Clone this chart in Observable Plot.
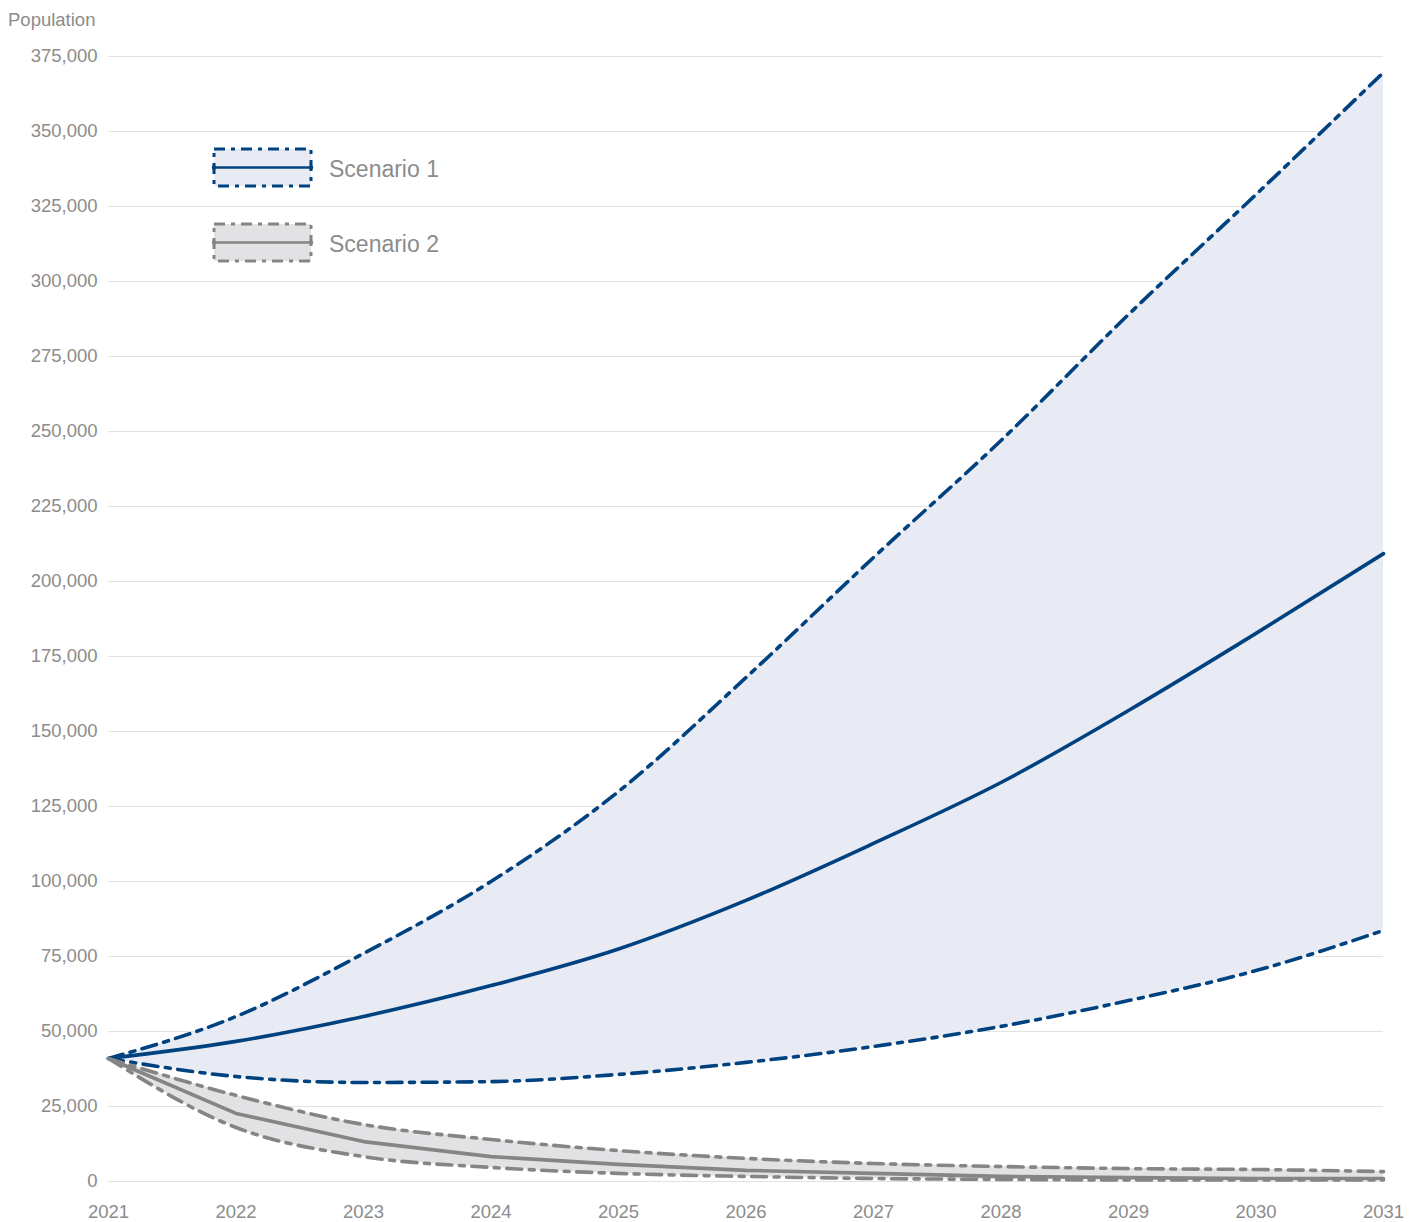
<!DOCTYPE html>
<html><head><meta charset="utf-8">
<script src="https://cdn.jsdelivr.net/npm/d3@7"></script>
<script src="https://cdn.jsdelivr.net/npm/@observablehq/plot@0.6"></script>
<style>
body{margin:0;background:#fff;font-family:"Liberation Sans",Arial,sans-serif;}
#wrap{position:relative;width:1411px;height:1222px;}
#ylab{position:absolute;left:8px;top:9px;font-size:18.5px;color:#8c8c8c;line-height:22px;}
#legend{position:absolute;left:0;top:0;}
</style></head><body><div id="wrap"><div id="ylab">Population</div></div>
<script>
const years = [2021, 2022, 2023, 2024, 2025, 2026, 2027, 2028, 2029, 2030, 2031];
const s1Central = [41000, 46700, 55000, 65300, 77500, 93700, 112700, 133000, 157000, 182700, 209300];
const s1High    = [41000, 55000, 76000, 100000, 130000, 168000, 208000, 247000, 289000, 329000, 369700];
const s1Low     = [41000, 35000, 33000, 33300, 35700, 39700, 45000, 51700, 60300, 70300, 83700];
const s2Central = [41000, 22700, 13300, 8300, 5700, 3700, 2700, 1700, 1300, 1000, 1000];
const s2High    = [41000, 28700, 19000, 14000, 10300, 7700, 6000, 5000, 4300, 4000, 3300];
const s2Low     = [41000, 18000, 8300, 4700, 2700, 1700, 1000, 700, 500, 500, 500];
const yTicks = [0, 25000, 50000, 75000, 100000, 125000, 150000, 175000, 200000, 225000, 250000, 275000, 300000, 325000, 350000, 375000];
const seriesNames = ["Scenario 1", "Scenario 2"];

const blue = "#00427f", blueFill = "#e8ebf4";
const grey = "#858585", greyFill = "#e2e2e4";
const dash = "15,7.5,5,7.5";
const font = '"Liberation Sans", Arial, sans-serif';

const table = years.map((yr, i) => ({
  year: yr,
  s1c: s1Central[i], s1h: s1High[i], s1l: s1Low[i],
  s2c: s2Central[i], s2h: s2High[i], s2l: s2Low[i]
}));

const sw = 3.6;
const curve = "monotone-x";
const chart = Plot.plot({
  width: 1411, height: 1222,
  marginLeft: 108, marginRight: 28, marginTop: 56, marginBottom: 41,
  style: {fontFamily: font, fontSize: "18.5px", color: "#8c8c8c", background: "#fff"},
  x: {domain: [2021, 2031]},
  y: {domain: [0, 375000]},
  marks: [
    Plot.gridY(yTicks, {stroke: "#e2e2e2", strokeOpacity: 1, strokeWidth: 1}),
    Plot.areaY(table, {x: "year", y1: "s1l", y2: "s1h", fill: blueFill, curve}),
    Plot.areaY(table, {x: "year", y1: "s2l", y2: "s2h", fill: greyFill, curve}),
    Plot.lineY(table, {x: "year", y: "s1h", stroke: blue, strokeWidth: sw, strokeDasharray: dash, curve}),
    Plot.lineY(table, {x: "year", y: "s1l", stroke: blue, strokeWidth: sw, strokeDasharray: dash, curve}),
    Plot.lineY(table, {x: "year", y: "s1c", stroke: blue, strokeWidth: sw, curve}),
    Plot.lineY(table, {x: "year", y: "s2h", stroke: grey, strokeWidth: sw, strokeDasharray: dash, curve}),
    Plot.lineY(table, {x: "year", y: "s2l", stroke: grey, strokeWidth: sw, strokeDasharray: dash, curve}),
    Plot.lineY(table, {x: "year", y: "s2c", stroke: grey, strokeWidth: sw}),
    Plot.axisY({ticks: yTicks, tickFormat: d3.format(","), tickSize: 0, tickPadding: 11, label: null, fontSize: 18.5}),
    Plot.axisX({ticks: years, tickFormat: d => String(d), tickSize: 0, tickPadding: 23, label: null, fontSize: 18.5})
  ]
});
const wrap = document.getElementById("wrap");
wrap.insertBefore(chart, wrap.firstChild);

// Legend overlay
const leg = d3.select(wrap).append("svg").attr("id", "legend").attr("width", 600).attr("height", 300);
const items = [
  {name: seriesNames[0], stroke: blue, fill: blueFill, top: 149},
  {name: seriesNames[1], stroke: grey, fill: greyFill, top: 224}
];
items.forEach(it => {
  const g = leg.append("g");
  g.append("rect").attr("x", 214).attr("y", it.top).attr("width", 97).attr("height", 37)
    .attr("fill", it.fill).attr("stroke", it.stroke).attr("stroke-width", 3).attr("stroke-dasharray", "11,6,4,6");
  g.append("line").attr("x1", 214).attr("x2", 311).attr("y1", it.top + 18.5).attr("y2", it.top + 18.5)
    .attr("stroke", it.stroke).attr("stroke-width", 2.5);
  g.append("circle").attr("cx", 214).attr("cy", it.top + 18.5).attr("r", 2.2).attr("fill", it.stroke);
  g.append("circle").attr("cx", 311).attr("cy", it.top + 18.5).attr("r", 2.2).attr("fill", it.stroke);
  g.append("text").attr("x", 329).attr("y", it.top + 22).attr("dominant-baseline", "middle")
    .attr("font-size", 23).attr("fill", "#8c8c8c").attr("font-family", font)
    .text(it.name);
});
</script>
</body></html>
